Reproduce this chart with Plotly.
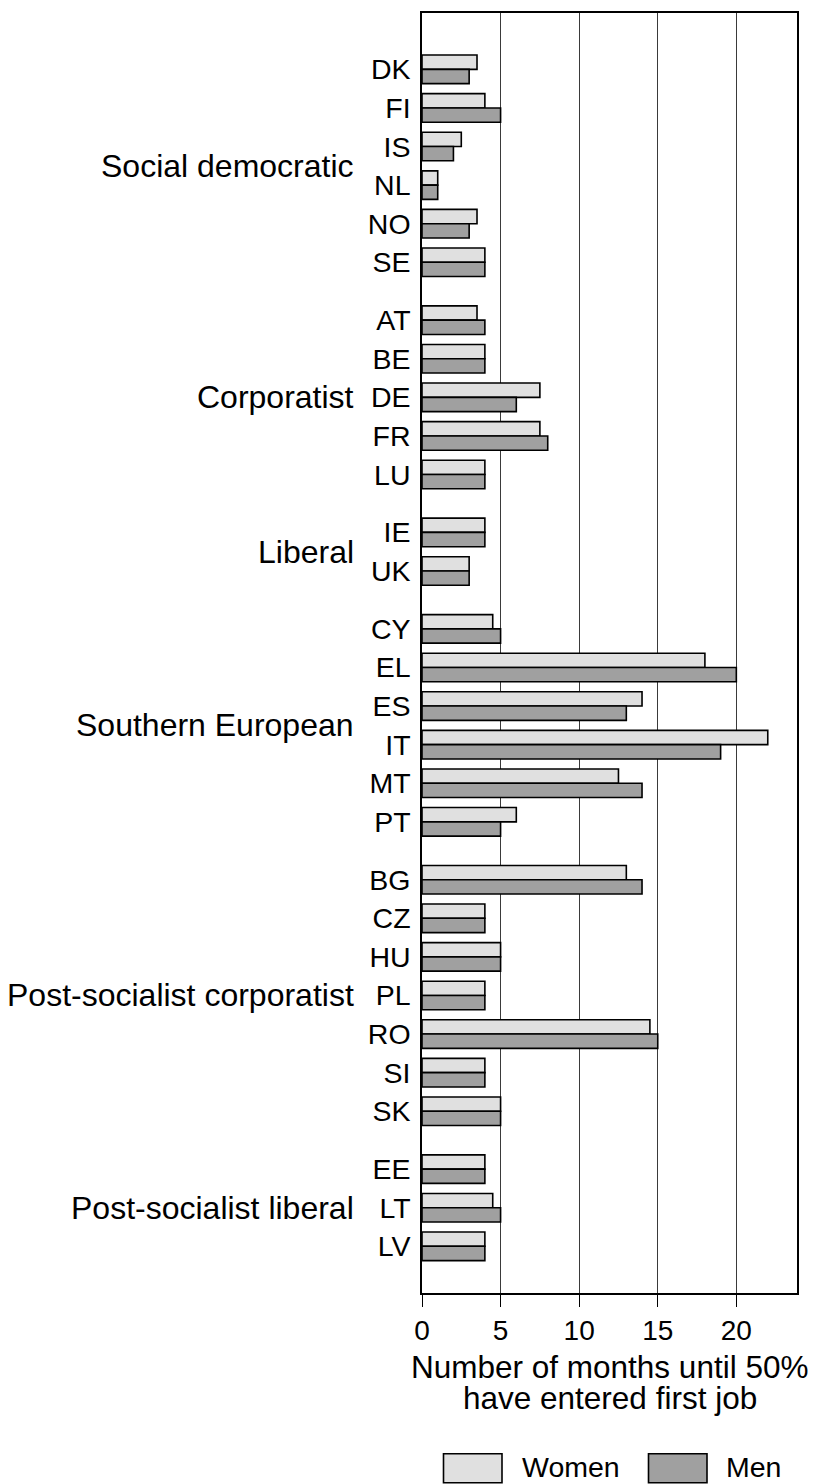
import plotly.graph_objects as go

# ---- data ----
countries = ["DK", "FI", "IS", "NL", "NO", "SE",
             "AT", "BE", "DE", "FR", "LU",
             "IE", "UK",
             "CY", "EL", "ES", "IT", "MT", "PT",
             "BG", "CZ", "HU", "PL", "RO", "SI", "SK",
             "EE", "LT", "LV"]
regimes = ["Social democratic", "Corporatist", "Liberal", "Southern European",
           "Post-socialist corporatist", "Post-socialist liberal"]
regime_sizes = [6, 5, 2, 6, 7, 3]
women = [3.5, 4, 2.5, 1, 3.5, 4,
         3.5, 4, 7.5, 7.5, 4,
         4, 3,
         4.5, 18, 14, 22, 12.5, 6,
         13, 4, 5, 4, 14.5, 4, 5,
         4, 4.5, 4]
men = [3, 5, 2, 1, 3, 4,
       4, 4, 6, 8, 4,
       4, 3,
       5, 20, 13, 19, 14, 5,
       14, 4, 5, 4, 15, 4, 5,
       4, 5, 4]
x_ticks = [0, 5, 10, 15, 20]
x_title_lines = ["Number of months until 50%", "have entered first job"]

# ---- layout constants (page pixels; the browser body adds an 8px offset) ----
OFF = 8
PAGE_W, PAGE_H = 816, 1484
W, H = PAGE_W - OFF, PAGE_H - OFF
PLOT_L, PLOT_R, PLOT_T, PLOT_B = 422, 797, 11, 1293
ML, MR, MT, MB = PLOT_L - OFF, PAGE_W - PLOT_R, PLOT_T - OFF, PAGE_H - PLOT_B
PW, PH = PLOT_R - PLOT_L, PLOT_B - PLOT_T
GROUP_GAP = 0.5
FONT = "Liberation Sans, Arial, sans-serif"
WOMEN_COL = "#e0e0e0"
MEN_COL = "#a0a0a0"

# y positions with gaps between regimes
ypos = []
group_centers = []
pos = 0.0
for gi, n in enumerate(regime_sizes):
    if gi > 0:
        pos += GROUP_GAP
    members = []
    for _ in range(n):
        ypos.append(pos)
        members.append(pos)
        pos += 1
    group_centers.append(sum(members) / len(members))

y_top = ypos[0] - 1.46
y_bot = ypos[-1] + 1.21

fig = go.Figure()
fig.add_trace(go.Bar(
    y=ypos, x=women, orientation="h", name="Women",
    marker=dict(color=WOMEN_COL, line=dict(color="black", width=1.6)),
))
fig.add_trace(go.Bar(
    y=ypos, x=men, orientation="h", name="Men",
    marker=dict(color=MEN_COL, line=dict(color="black", width=1.6)),
))

fig.update_layout(
    width=W, height=H,
    margin=dict(l=ML, r=MR, t=MT, b=MB, pad=0),
    paper_bgcolor="white", plot_bgcolor="white",
    barmode="group", bargap=0.26, bargroupgap=0,
    showlegend=False,
    font=dict(family=FONT, color="black", size=28),
)

fig.update_xaxes(
    range=[0, 23.86], tickvals=x_ticks, ticktext=[str(t) for t in x_ticks],
    ticks="outside", ticklen=12, tickwidth=1.2, tickcolor="black",
    tickfont=dict(size=28, family=FONT, color="black"),
    showgrid=True, gridcolor="#3a3a3a", gridwidth=1,
    showline=True, linecolor="black", linewidth=1.5, mirror=True,
    zeroline=False,
)
fig.update_yaxes(
    range=[y_bot, y_top], tickvals=ypos, ticktext=countries,
    ticks="", ticklabelstandoff=4,
    tickfont=dict(size=28.5, family=FONT, color="black"),
    showgrid=False, showline=True, linecolor="black", linewidth=1.5, mirror=True,
    zeroline=False,
)


def py(ypix):
    return (PLOT_B - ypix) / PH


def px(xpix):
    return (xpix - PLOT_L) / PW


annotations = []
# regime labels
for name, yc in zip(regimes, group_centers):
    annotations.append(dict(
        text=name, x=px(356), xref="paper", y=yc, yref="y",
        xanchor="right", yanchor="middle", showarrow=False,
        font=dict(size=32, family=FONT, color="black"),
    ))

# x-axis title (two lines, tight spacing)
for line, yc in zip(x_title_lines, [1367, 1398]):
    annotations.append(dict(
        text=line, x=0.5, xref="paper", y=py(yc), yref="paper",
        xanchor="center", yanchor="middle", showarrow=False,
        font=dict(size=31.5, family=FONT, color="black"),
    ))

# custom legend
shapes = []
legend_items = [("Women", WOMEN_COL, 443.5, 520.5), ("Men", MEN_COL, 648.5, 725)]
for label, col, bx, tx in legend_items:
    shapes.append(dict(
        type="rect", xref="paper", yref="paper",
        x0=px(bx), x1=px(bx + 58.5), y0=py(1483), y1=py(1454),
        fillcolor=col, line=dict(color="black", width=1.6),
    ))
    annotations.append(dict(
        text=label, x=px(tx), xref="paper", y=py(PAGE_H), yref="paper",
        xanchor="left", yanchor="bottom", showarrow=False, borderpad=0,
        font=dict(size=28.5, family=FONT, color="black"),
    ))

fig.update_layout(annotations=annotations, shapes=shapes)
fig.write_html("out.html")
